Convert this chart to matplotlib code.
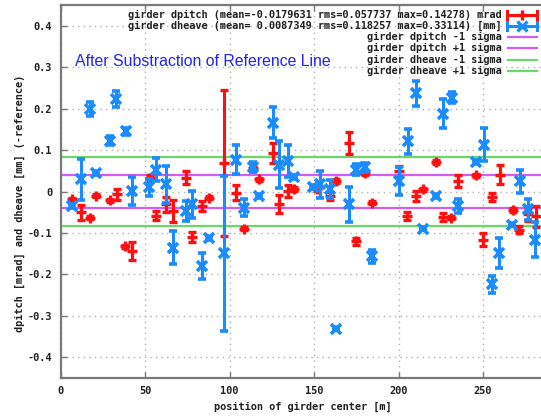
import matplotlib
matplotlib.use("Agg")
import matplotlib.pyplot as plt
from matplotlib.lines import Line2D

# girder dpitch [mrad] after reference-line subtraction
pitch_x = [7.0, 12.0, 17.3, 21.2, 29.2, 33.7, 38.2, 42.2, 53.0, 56.8, 62.3, 66.7,
           74.2, 78.1, 83.5, 88.0, 96.5, 103.8, 108.8, 113.7, 117.7, 126.0, 129.5,
           134.5, 138.4, 152.0, 159.2, 163.1, 171.0, 175.0, 179.9, 184.5, 200.2,
           205.0, 210.1, 214.5, 222.4, 226.3, 231.3, 235.2, 245.7, 250.0, 255.6,
           260.0, 267.5, 271.4, 276.7, 281.3]
pitch_y = [-0.019, -0.050, -0.063, -0.010, -0.021, -0.007, -0.132, -0.1428, 0.033,
           -0.058, -0.031, -0.047, 0.033, -0.109, -0.035, -0.015, 0.069, -0.003,
           -0.090, 0.057, 0.029, 0.093, -0.031, 0.001, 0.006, 0.005, -0.010, 0.025,
           0.117, -0.120, 0.045, -0.027, 0.049, -0.059, -0.011, 0.005, 0.071,
           -0.061, -0.063, 0.025, 0.039, -0.116, -0.013, 0.041, -0.045, -0.092,
           -0.055, -0.060]
pitch_err = [0.004, 0.018, 0.004, 0.004, 0.004, 0.013, 0.004, 0.022, 0.008, 0.010,
             0.018, 0.026, 0.016, 0.012, 0.012, 0.004, 0.177, 0.018, 0.004, 0.004,
             0.004, 0.024, 0.022, 0.015, 0.004, 0.004, 0.010, 0.004, 0.026, 0.008,
             0.004, 0.004, 0.013, 0.010, 0.012, 0.004, 0.004, 0.010, 0.004, 0.014,
             0.004, 0.016, 0.010, 0.024, 0.004, 0.008, 0.016, 0.026]

# girder dheave [mm] after reference-line subtraction
heave_x = [7.0, 12.0, 17.3, 21.2, 29.2, 33.1, 38.6, 42.6, 52.5, 56.8, 62.3, 66.3,
           74.2, 78.1, 83.7, 88.0, 96.5, 103.8, 108.8, 113.7, 117.7, 126.0, 129.5,
           134.5, 138.4, 149.3, 153.6, 159.2, 163.1, 171.0, 175.0, 179.9, 184.5,
           200.2, 205.6, 210.5, 214.5, 222.4, 226.3, 231.9, 235.2, 245.7, 250.4,
           255.4, 259.5, 267.3, 271.8, 276.7, 280.7]
heave_y = [-0.035, 0.029, 0.198, 0.045, 0.123, 0.223, 0.145, 0.001, 0.010, 0.053,
           0.017, -0.136, -0.047, -0.031, -0.180, -0.112, -0.149, 0.077, -0.039,
           0.059, -0.011, 0.166, 0.065, 0.073, 0.035, 0.011, 0.017, 0.006, -0.3311,
           -0.031, 0.053, 0.058, -0.156, 0.025, 0.121, 0.237, -0.090, -0.011,
           0.188, 0.226, -0.035, 0.071, 0.113, -0.224, -0.148, -0.080, 0.025,
           -0.043, -0.116]
heave_err = [0.004, 0.050, 0.017, 0.004, 0.012, 0.020, 0.009, 0.033, 0.020, 0.028,
             0.044, 0.040, 0.024, 0.032, 0.032, 0.004, 0.1875, 0.034, 0.020, 0.012,
             0.004, 0.038, 0.056, 0.038, 0.004, 0.005, 0.032, 0.022, 0.004, 0.042,
             0.014, 0.010, 0.016, 0.034, 0.030, 0.030, 0.004, 0.004, 0.035, 0.013,
             0.018, 0.004, 0.040, 0.020, 0.036, 0.004, 0.028, 0.026, 0.043]

# +/- 1 sigma bands
pitch_sigma = 0.0408
heave_sigma = 0.0836

x_ticks = [0, 50, 100, 150, 200, 250]
y_ticks = [-0.4, -0.3, -0.2, -0.1, 0.0, 0.1, 0.2, 0.3, 0.4]
y_tick_labels = ["-0.4", "-0.3", "-0.2", "-0.1", "0", "0.1", "0.2", "0.3", "0.4"]

legend_labels = [
    "girder dpitch (mean=-0.0179631 rms=0.057737 max=0.14278) mrad",
    "girder dheave (mean= 0.0087349 rms=0.118257 max=0.33114) [mm]",
    "girder dpitch -1 sigma",
    "girder dpitch +1 sigma",
    "girder dheave -1 sigma",
    "girder dheave +1 sigma",
]

RED = "#ff1010"
BLUE = "#1a8cff"
MAGENTA = "#d25cf5"
GREEN = "#6cd86c"
FRAME = "#7a7a7a"

W, H = 541, 417
mono = dict(family="DejaVu Sans Mono", fontweight="bold", fontsize=7.35, color="#202020")

fig = plt.figure(figsize=(W / 100, H / 100), dpi=100)


def fx(px):
    return px / W


def fy(py):
    return 1 - py / H


# axes: x=0 at 60.5 px, 1 m = 1.69 px; y from -0.45 (378 px) to 0.45 (5 px)
ax = fig.add_axes([fx(60.5), fy(378), 300 * 1.69 / W, (378 - 5) / H])
ax.set_xlim(0, 300)
ax.set_ylim(-0.45, 0.45)

for s in ax.spines.values():
    s.set_color(FRAME)
    s.set_linewidth(1.6)

ax.set_xticks(x_ticks)
ax.set_xticklabels([str(t) for t in x_ticks], **mono)
ax.set_yticks(y_ticks)
ax.set_yticklabels(y_tick_labels, **mono)
ax.tick_params(direction="in", length=4, width=1, color=FRAME,
               top=True, right=True, pad=6)
ax.grid(True, color="#b0b0b0", linestyle=(0, (1, 3)), linewidth=1)
ax.set_axisbelow(True)

for v in (-pitch_sigma, pitch_sigma):
    ax.axhline(v, color=MAGENTA, linewidth=1.6, zorder=2)
for v in (-heave_sigma, heave_sigma):
    ax.axhline(v, color=GREEN, linewidth=1.6, zorder=2)

ax.errorbar(pitch_x, pitch_y, yerr=pitch_err, fmt="+", color=RED, ms=7, mew=2.4,
            elinewidth=2.2, capsize=3, capthick=2.4, zorder=3)
ax.errorbar(heave_x, heave_y, yerr=heave_err, fmt="x", color=BLUE, ms=6.5, mew=2.6,
            elinewidth=2.2, capsize=3, capthick=2.4, zorder=4)

fig.text(fx(75), fy(61), "After Substraction of Reference Line", color="#2222ff",
         family="Liberation Sans", fontsize=11.4, va="center", ha="left")

# legend
rows = [14.5, 25.8, 37.1, 48.4, 59.7, 71.0]
for i, (lab, py) in enumerate(zip(legend_labels, rows)):
    fig.text(fx(502), fy(py), lab, ha="right", va="center", **mono)
    if i == 0 or i == 1:
        col = RED if i == 0 else BLUE
        mk = "+" if i == 0 else "x"
        x0, x1 = 507, 537
        fig.add_artist(Line2D([fx(x0), fx(x1)], [fy(py), fy(py)], color=col, lw=2.2))
        for xc in (x0, x1):
            fig.add_artist(Line2D([fx(xc), fx(xc)], [fy(py - 4), fy(py + 4)], color=col, lw=2.2))
        fig.add_artist(Line2D([fx((x0 + x1) / 2)], [fy(py)], marker=mk, color=col,
                              ms=7, mew=2.4, linestyle="none"))
    else:
        col = MAGENTA if i < 4 else GREEN
        fig.add_artist(Line2D([fx(508), fx(537)], [fy(py), fy(py)], color=col, lw=1.6))

fig.text(fx(20), fy(203), "dpitch [mrad] and dheave [mm] (-reference)",
         rotation=90, ha="center", va="center", **mono)
fig.text(fx(303), fy(407), "position of girder center [m]",
         ha="center", va="center", **mono)

fig.savefig("out.png", dpi=100)
